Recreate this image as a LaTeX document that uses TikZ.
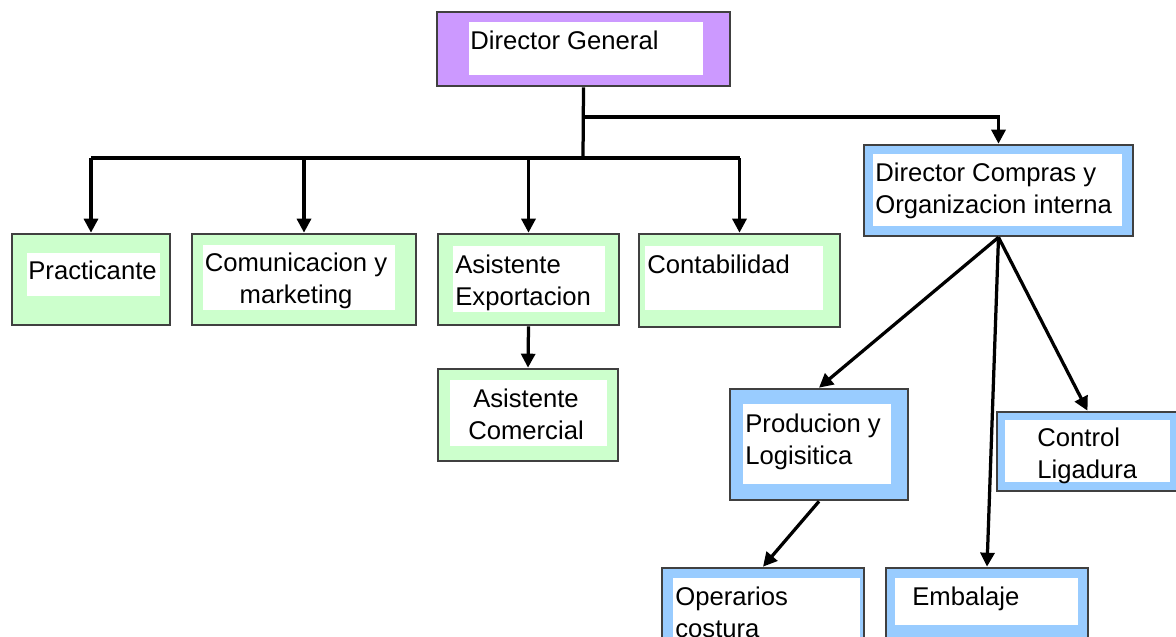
\documentclass[tikz,border=0pt]{standalone}
\usepackage{fontspec}
\setmainfont{Liberation Sans}
\usetikzlibrary{arrows.meta,fit}
\definecolor{purplebox}{RGB}{204,153,255}
\definecolor{greenbox}{RGB}{204,255,204}
\definecolor{bluebox}{RGB}{153,204,255}
\begin{document}
\begin{tikzpicture}[x=0.02cm, y=-0.02cm,
    unit/.style={draw=black!75, line width=1.5pt, inner sep=0pt},
    boxtext/.style={inner sep=0pt, font=\fontsize{14.6}{18.1}\selectfont, align=left},
    link/.style={line width=0.065cm},
    arr/.style={link, -{Triangle[length=0.28cm, width=0.28cm]}}]
  \useasboundingbox (0,0) rectangle (1176,636);
  \clip (0,0) rectangle (1176,636);

  % Director General
  \node[unit, fill=purplebox, fit={(437,12) (730,86)}] (dg) {};
  \fill[white] (469,22) rectangle (703,75);
  \node[boxtext, anchor=base west] (dgt) at (470,49) {Director General};

  % Green units (base = last line)
  \node[unit, fill=greenbox, fit={(12,234) (170,325)}] (pr) {};
  \fill[white] (27,253) rectangle (160,296);
  \node[boxtext, anchor=base west] (prt) at (28,279) {Practicante};

  \node[unit, fill=greenbox, fit={(192,234) (416,325)}] (cm) {};
  \fill[white] (203,245) rectangle (395,310);
  \node[boxtext, align=center, anchor=base] (cmt) at (296,303) {Comunicacion y\\marketing};

  \node[unit, fill=greenbox, fit={(438,234) (619,325)}] (ae) {};
  \fill[white] (453,246) rectangle (605,312);
  \node[boxtext, anchor=base west] (aet) at (455,305) {Asistente\\Exportacion};

  \node[unit, fill=greenbox, fit={(639,234) (840,327)}] (ct) {};
  \fill[white] (645,246) rectangle (823,310);
  \node[boxtext, anchor=base west] (ctt) at (647,273) {Contabilidad};

  \node[unit, fill=greenbox, fit={(438,369) (618,461)}] (ac) {};
  \fill[white] (450,380) rectangle (607,446);
  \node[boxtext, align=center, anchor=base] (act) at (526,439) {Asistente\\Comercial};

  % Blue units
  \node[unit, fill=bluebox, fit={(864,145) (1133,236)}] (dc) {};
  \fill[white] (873,154) rectangle (1122,226);
  \node[boxtext, anchor=base west] (dct) at (875,213) {Director Compras y\\Organizacion interna};

  \node[unit, fill=bluebox, fit={(730,389) (908,500)}] (pl) {};
  \fill[white] (743,404) rectangle (891,484);
  \node[boxtext, anchor=base west] (plt) at (745,464) {Producion y\\Logisitica};

  \node[unit, fill=bluebox, fit={(997,412) (1178,491)}] (cl) {};
  \fill[white] (1005,420) rectangle (1170,482);
  \node[boxtext, anchor=base west] (clt) at (1037,478) {Control\\Ligadura};

  \node[unit, fill=bluebox, fit={(662,568) (864,660)}] (op) {};
  \fill[white] (673,578) rectangle (860,660);
  \node[boxtext, anchor=base west] (opt) at (675,637) {Operarios\\costura};

  \node[unit, fill=bluebox, fit={(886,568) (1088,645)}] (em) {};
  \fill[white] (895,578) rectangle (1078,625);
  \node[boxtext, anchor=base west] (emt) at (912,605) {Embalaje};

  % Connectors
  \coordinate (bus) at (583,158);
  \coordinate (tap) at (583,117);
  \draw[link] (dg.south) -- (bus);
  \draw[link] (bus -| pr.north) -- (bus -| ct.north);
  \foreach \b in {pr,cm,ae,ct}
    \draw[arr] (bus -| \b.north) -- (\b.north);
  \draw[arr] (tap) -| (dc.north);
  \draw[arr] (ae.south) -- (ac.north);
  \foreach \b in {pl,em,cl}
    \draw[arr] (dc.south) -- (\b.north);
  \draw[arr] (pl.south) -- (op.north);
\end{tikzpicture}
\end{document}
